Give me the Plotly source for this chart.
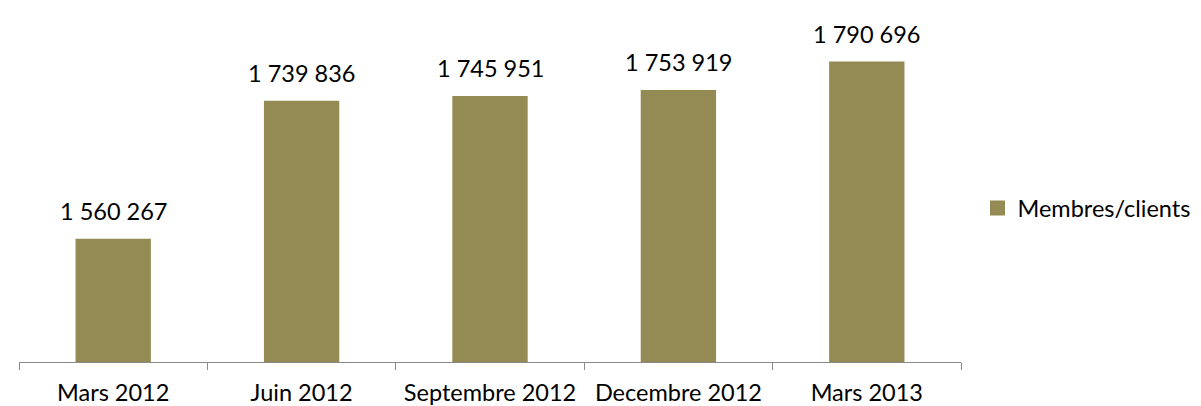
import plotly.graph_objects as go

categories = ["Mars 2012", "Juin 2012", "Septembre 2012", "Decembre 2012", "Mars 2013"]
values = [1560267, 1739836, 1745951, 1753919, 1790696]
series_name = "Membres/clients"

def fmt(v):
    return f"{v:,}".replace(",", " ")

FONT = "Lato"
FS = 23.5
BAR = "#948A54"
fig = go.Figure()
fig.add_trace(go.Bar(
    x=categories, y=values, name=series_name, showlegend=False,
    marker=dict(color=BAR, line=dict(width=0)),
    hoverinfo="skip",
))
# legend entry (square swatch like the original)
fig.add_trace(go.Scatter(
    x=[None], y=[None], mode="markers", name=series_name,
    marker=dict(symbol="square", size=15, color=BAR),
))
for c, v in zip(categories, values):
    fig.add_annotation(x=c, y=v, text=fmt(v), showarrow=False,
                       yanchor="bottom", yshift=12,
                       font=dict(family=FONT, size=FS, color="#000000"))

fig.update_layout(
    width=1201, height=406,
    margin=dict(l=11, r=248, t=8, b=46),
    paper_bgcolor="white", plot_bgcolor="white",
    bargap=0.6,
    showlegend=True,
    legend=dict(x=1.0175, xanchor="left", y=0.4446, yanchor="middle",
                font=dict(family=FONT, size=FS, color="#000000"),
                itemwidth=30, itemsizing="trace",
                bgcolor="rgba(0,0,0,0)"),
    font=dict(family=FONT, size=FS, color="#000000"),
)
fig.update_xaxes(
    type="category", showline=True, linecolor="#898989", linewidth=1,
    ticks="outside", tickson="boundaries", ticklen=7, tickcolor="#898989",
    tickfont=dict(family=FONT, size=FS, color="#000000"),
    ticklabelstandoff=10, showgrid=False,
)
fig.update_yaxes(range=[1400000, 1850000], visible=False, showgrid=False)

fig.write_html("out.html")
